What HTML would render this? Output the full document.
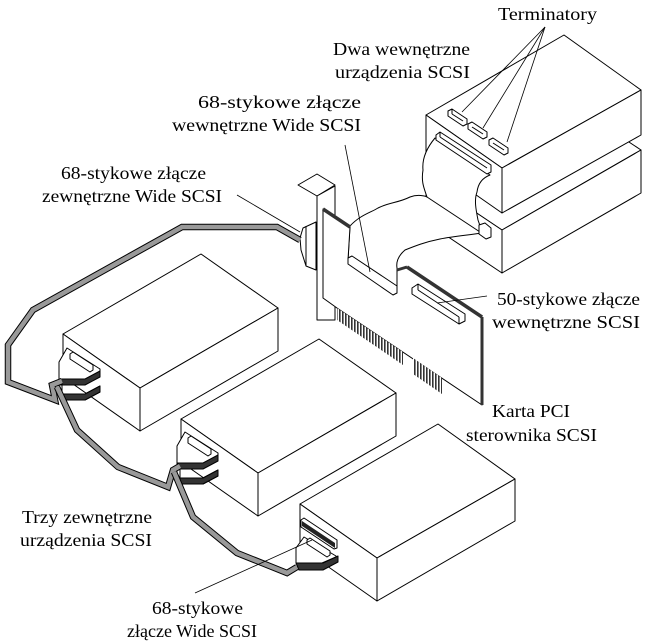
<!DOCTYPE html>
<html><head><meta charset="utf-8"><style>
html,body{margin:0;padding:0;background:#fff}
svg{display:block}
</style></head><body>
<svg width="650" height="641" viewBox="0 0 650 641" xmlns="http://www.w3.org/2000/svg">
<defs>
<pattern id="fing" width="3" height="10" patternUnits="userSpaceOnUse">
<rect width="3" height="10" fill="#fff"/><rect width="1.6" height="10" fill="#333"/>
</pattern>
</defs>
<g fill="#fff" stroke="#000" stroke-width="1" stroke-linejoin="round">

<polygon points="426,179 564,99 641,150 502,230"/>
<polygon points="426,179 502,230 502,273 426,222"/>
<polygon points="502,230 641,150 641,193 502,273"/>
<polygon points="426,115 564,35 641,90 502,168"/>
<polygon points="426,115 502,168 502,213 426,160"/>
<polygon points="502,168 641,90 641,135 502,213"/>
<polygon points="448,111 452,109 467,119 467,124 463,126 448,116"/>
<line x1="452" y1="109" x2="452" y2="114"/><line x1="452" y1="114" x2="463" y2="121"/>
<polygon points="468,124 472,122 487,132 487,137 483,139 468,129"/>
<line x1="472" y1="127" x2="483" y2="134"/>
<polygon points="489,140 493,138 508,148 508,153 504,155 489,145"/>
<line x1="493" y1="143" x2="504" y2="150"/>
<path d="M350,226 C360,215 372,212 378,208 C390,202 398,203 410,197 C418,194 425,196 427,197 C424,188 421,182 423,170 C422,160 425,150 435,138 L490,175 C482,178 478,184 477,192 C474,200 476,210 478,220 C480,226 482,230 481,233 C470,235 455,236 440,239 C425,242 415,246 405,250 C398,256 396,262 397,268 L397,292 L348,260 Z"/>
<line x1="427" y1="197" x2="480" y2="232"/>
<polygon points="436,135 440,132 491,165 491,172 487,174 436,140"/>
<line x1="440" y1="132" x2="440" y2="137"/><line x1="440" y1="137" x2="487" y2="168"/>
<polygon points="479,225 485,223 491,228 491,237 486,239 479,234"/>

<polygon points="298,185 317,174 335,185 317,196"/>
<polygon points="317,196 335,186 335,320 317,320"/>
<polygon points="323,209 350,227 348,260 397,292 397,270 407,267 482,317 482,405 337,308 323,298"/>
<line x1="323" y1="209" x2="350" y2="227" stroke="#333" stroke-width="3.5"/>
<line x1="407" y1="267" x2="482" y2="317" stroke="#333" stroke-width="3.5"/>
<line x1="397" y1="270" x2="407" y2="267" stroke="#333" stroke-width="3"/>
<line x1="482" y1="317" x2="482" y2="405" stroke="#333" stroke-width="3"/>
<polygon points="337,308 403,352 403,365 337,320" fill="url(#fing)" stroke="none"/>
<polygon points="413,358 442,378 442,394 413,374" fill="url(#fing)" stroke="none"/>
<polygon points="348,258 352,256 397,286 397,293 393,295 348,264"/>
<polygon points="412,288 418,284 465,314 465,321 459,324 412,294"/>
<line x1="418" y1="284" x2="418" y2="290"/><line x1="418" y1="290" x2="459" y2="317"/><line x1="459" y1="317" x2="459" y2="324"/>
<polygon points="300,238 303,228 316,222 316,270 306,266 301,250"/>
<line x1="306" y1="226" x2="306" y2="266"/>

<polygon points="63,334 201,254 278,308 140,388"/>
<polygon points="63,334 140,388 140,431 63,377"/>
<polygon points="140,388 278,308 278,351 140,431"/>
<polygon points="181,419 319,339 396,393 258,473"/>
<polygon points="181,419 258,473 258,516 181,462"/>
<polygon points="258,473 396,393 396,436 258,516"/>
<polygon points="300,504 438,424 515,479 377,558"/>
<polygon points="300,504 377,558 377,601 300,547"/>
<polygon points="377,558 515,479 515,521 377,601"/>
</g>

<g id="c1" stroke="#000" stroke-width="1" stroke-linejoin="round">
<polygon points="59,380 59,362 67,348 100,369 100,372 85,380" fill="#fff"/>
<polygon points="70,354 73,352 93,365 93,370 90,372 70,359" fill="#fff"/>
<polygon points="59,379 85,379 100,371 100,377 85,385 62,385" fill="#333"/>
<polygon points="59,385 62,385 62,394 85,394 100,386 100,392 85,400 62,400 59,398" fill="#fff"/>
<polygon points="62,394 85,394 100,386 100,392 85,400 62,400" fill="#333"/>
</g>
<use href="#c1" transform="translate(118,84)"/>
<g stroke="#000" stroke-width="1" stroke-linejoin="round">
<polygon points="296,563 296,548 304,537 336,556 336,557 322,563" fill="#fff"/>
<polygon points="307,540 310,538 330,551 330,555 327,557 307,544" fill="#fff"/>
<polygon points="296,563 323,563 338,556 338,562 323,570 299,570" fill="#333"/>
<polygon points="301,520 304,518 337,540 337,548 334,549 301,527" fill="#fff"/>
<polygon points="302,521 335,543 335,548 302,526" fill="#222" stroke="none"/>
</g>

<g fill="none" stroke-linejoin="miter">
<polyline points="300,240 277,227 182,227 33,310 8,345 8,382 55,400 52,385 62,381" stroke="#000" stroke-width="6.5"/>
<polyline points="300,240 277,227 182,227 33,310 8,345 8,382 55,400 52,385 62,381" stroke="#999" stroke-width="4.5"/>
<polyline points="57,387 77,430 118,467 168,487 173,470 180,466" stroke="#000" stroke-width="6.5"/>
<polyline points="57,387 77,430 118,467 168,487 173,470 180,466" stroke="#999" stroke-width="4.5"/>
<polyline points="174,472 193,517 237,553 287,573 297,567" stroke="#000" stroke-width="6.5"/>
<polyline points="174,472 193,517 237,553 287,573 297,567" stroke="#999" stroke-width="4.5"/>
</g>

<g stroke="#000" stroke-width="0.8">
<line x1="545" y1="27" x2="462" y2="112"/>
<line x1="545" y1="27" x2="483" y2="128"/>
<line x1="545" y1="27" x2="507" y2="142"/>
<line x1="345" y1="145" x2="370" y2="272"/>
<line x1="237" y1="195" x2="300" y2="232"/>
<line x1="487" y1="296" x2="437" y2="303"/>
<line x1="195" y1="593" x2="312" y2="540"/>
</g>

<g font-family="'Liberation Serif', 'Times New Roman', Times, serif" font-size="18" fill="#000">
<text x="498" y="20" textLength="99" lengthAdjust="spacingAndGlyphs">Terminatory</text>
<text x="333" y="55" textLength="137" lengthAdjust="spacingAndGlyphs">Dwa wewnętrzne</text>
<text x="335" y="78" textLength="135" lengthAdjust="spacingAndGlyphs">urządzenia SCSI</text>
<text x="198" y="108" textLength="163" lengthAdjust="spacingAndGlyphs">68-stykowe złącze</text>
<text x="172" y="131" textLength="189" lengthAdjust="spacingAndGlyphs">wewnętrzne Wide SCSI</text>
<text x="61" y="179" textLength="145" lengthAdjust="spacingAndGlyphs">68-stykowe złącze</text>
<text x="42" y="202" textLength="180" lengthAdjust="spacingAndGlyphs">zewnętrzne Wide SCSI</text>
<text x="497" y="305" textLength="143" lengthAdjust="spacingAndGlyphs">50-stykowe złącze</text>
<text x="492" y="328" textLength="148" lengthAdjust="spacingAndGlyphs">wewnętrzne SCSI</text>
<text x="492" y="417" textLength="78" lengthAdjust="spacingAndGlyphs">Karta PCI</text>
<text x="466" y="441" textLength="131" lengthAdjust="spacingAndGlyphs">sterownika SCSI</text>
<text x="22" y="523" textLength="130" lengthAdjust="spacingAndGlyphs">Trzy zewnętrzne</text>
<text x="20" y="546" textLength="132" lengthAdjust="spacingAndGlyphs">urządzenia SCSI</text>
<text x="152" y="614" textLength="91" lengthAdjust="spacingAndGlyphs">68-stykowe</text>
<text x="127" y="637" textLength="130" lengthAdjust="spacingAndGlyphs">złącze Wide SCSI</text>
</g>
</svg>
</body></html>
